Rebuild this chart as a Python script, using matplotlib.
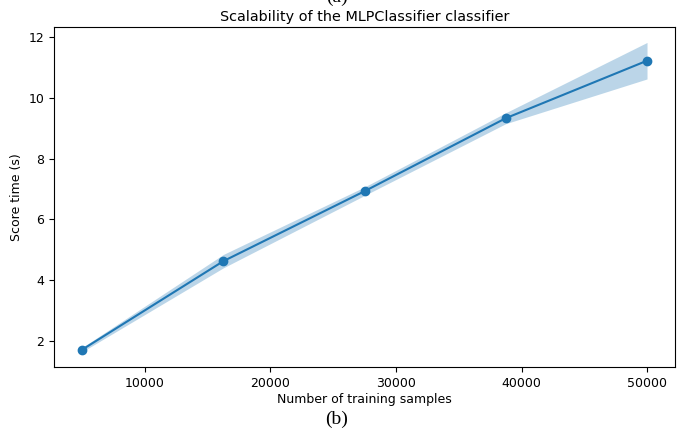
# -*- encoding: utf-8 -*-
import numpy as np
import matplotlib
matplotlib.use("Agg")
import matplotlib.pyplot as plt

# values
train_sizes = [5000, 16250, 27500, 38750, 50000]
score_mean = [1.72, 4.63, 6.93, 9.33, 11.22]
score_std = [0.07, 0.22, 0.14, 0.18, 0.60]

title = "Scalability of the MLPClassifier classifier"


def main():
    fig = plt.figure(figsize=(6.79, 4.32), dpi=100)
    ax = fig.add_axes([0.0795, 0.150, 0.915, 0.7875])

    mean = np.asarray(score_mean)
    std = np.asarray(score_std)
    ax.fill_between(train_sizes, mean - std, mean + std, alpha=0.3, color="C0", lw=0)
    ax.plot(train_sizes, mean, "o-", color="C0", lw=1.5, markersize=6)

    ax.set_yticks([2, 4, 6, 8, 10, 12])
    ax.set_xticks([10000, 20000, 30000, 40000, 50000])
    ax.tick_params(labelsize=9)
    ax.set_xlabel("Number of training samples", fontsize=9, labelpad=2)
    ax.set_ylabel("Score time (s)", fontsize=9)
    ax.set_title(title, fontsize=10.4, pad=4)

    # figure captions from the paper
    fig.text(0.496, 1.005, "(a)", family="Liberation Serif", fontsize=14,
             ha="center", va="center")
    fig.text(0.495, 0.03, "(b)", family="Liberation Serif", fontsize=14,
             ha="center", va="center")

    fig.savefig("out.png", dpi=100)


if __name__ == "__main__":
    main()
